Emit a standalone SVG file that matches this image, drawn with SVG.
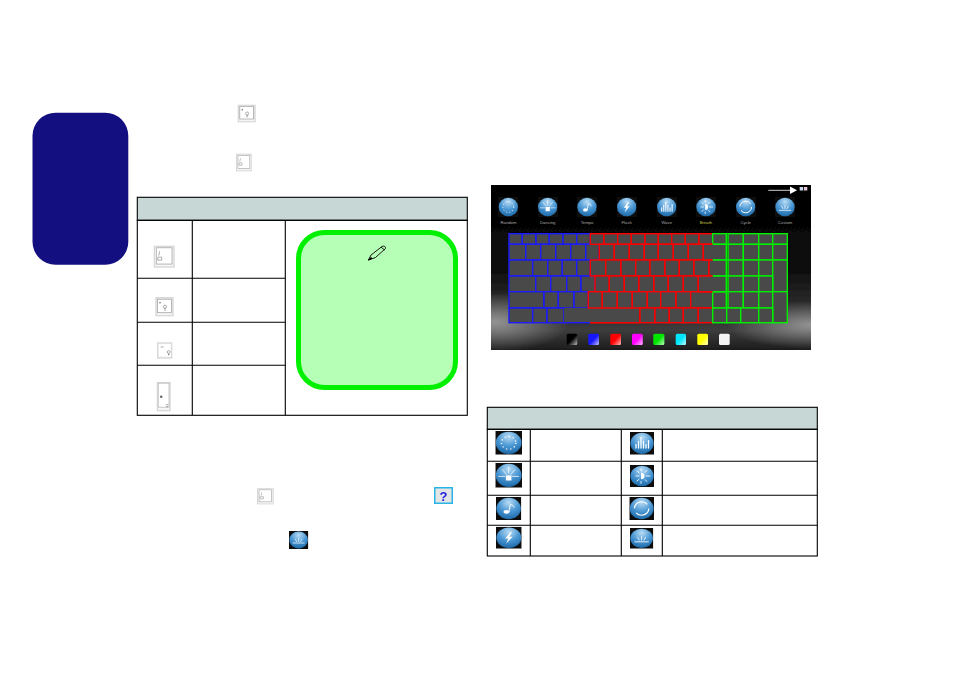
<svg xmlns="http://www.w3.org/2000/svg" width="954" height="673" viewBox="0 0 954 673">
<style>
.line{fill:none;stroke:#000;stroke-width:1.1}
.head{fill:#c7d7d6;stroke:#000;stroke-width:1.1}
.b,.r,.g,.k{fill:#484848;stroke-width:1.4}
.b{stroke:#1a1aff}.r{stroke:#ff0000}.g{stroke:#00f000}.k{stroke:none}
.nf{fill:none}
.lbl{font:4.2px "Liberation Sans",Arial,sans-serif;fill:#a8a8a8;text-anchor:middle}
.kf{fill:#f6f6f6;stroke:#d8d8d8;stroke-width:1.4}
.kn{fill:#fff;stroke:#a4a4a4;stroke-width:.8}
.ki{fill:none;stroke:#8a8a8a;stroke-width:.7}
.kd{fill:#666}
.w{fill:#fff}.ws{fill:none;stroke:#fff;stroke-linecap:round}
.soft{filter:url(#blur)}
</style>
<defs>
<filter id="blur" x="-5%" y="-5%" width="110%" height="110%"><feGaussianBlur stdDeviation=".28"/></filter>
<radialGradient id="sph" cx=".5" cy=".22" r=".85"><stop offset="0" stop-color="#b9dcf4"/><stop offset=".5" stop-color="#4a97d4"/><stop offset="1" stop-color="#14609f"/></radialGradient>
<linearGradient id="kbbg" x1="0" y1="0" x2="0" y2="1"><stop offset="0" stop-color="#000"/><stop offset=".5" stop-color="#0c0c0c"/><stop offset=".78" stop-color="#333"/><stop offset=".88" stop-color="#3c3c3c"/><stop offset="1" stop-color="#1c1c1c"/></linearGradient>
<radialGradient id="glow"><stop offset="0" stop-color="#aaa" stop-opacity=".8"/><stop offset="1" stop-color="#aaa" stop-opacity="0"/></radialGradient>
<clipPath id="kbclip"><rect x="491" y="185" width="320" height="165"/></clipPath>
<linearGradient id="sw" x1="0" y1="0" x2="1" y2="1"><stop offset=".5" stop-color="#fff" stop-opacity="0"/><stop offset="1" stop-color="#fff" stop-opacity=".75"/></linearGradient>
<symbol id="ball" viewBox="0 0 24 24" preserveAspectRatio="none"><rect width="24" height="24" fill="#111"/><ellipse cx="12" cy="12" rx="11.600" ry="11.200" fill="url(#sph)"/></symbol>
<symbol id="random" viewBox="0 0 24 24" preserveAspectRatio="none"><use href="#ball" width="24" height="24"/><circle cx="12" cy="12" r="6.500" fill="none" stroke="#fff" stroke-width="1.200" stroke-dasharray="1.200 2.600"/></symbol>
<symbol id="dancing" viewBox="0 0 24 24" preserveAspectRatio="none"><use href="#ball" width="24" height="24"/><rect x="9.500" y="12" width="5" height="5" class="w"/><path d="M12 10V4M10 11 6.500 6.500M14 11l3.500-4.500M8.500 13H3M15.500 13H21" class="ws" stroke-width=".7"/></symbol>
<symbol id="tempo" viewBox="0 0 24 24" preserveAspectRatio="none"><use href="#ball" width="24" height="24"/><ellipse cx="10" cy="15.500" rx="2.800" ry="2" class="w"/><path d="M12.400 15 13.500 8c2 0 3 .8 3.500 2.500" class="ws" stroke-width=".9"/></symbol>
<symbol id="flash" viewBox="0 0 24 24" preserveAspectRatio="none"><use href="#ball" width="24" height="24"/><path d="M13.500 6 8.500 13h3L9.500 18.500l6-7.500h-3l2.500-5z" class="w"/></symbol>
<symbol id="wave" viewBox="0 0 24 24" preserveAspectRatio="none"><use href="#ball" width="24" height="24"/><path d="M6 17v-4M8.500 17V10M11 17V6M13.500 17v-7M16 17v-4M18.500 17V9" class="ws" stroke-width="1.300" stroke-linecap="butt"/></symbol>
<symbol id="breath" viewBox="0 0 24 24" preserveAspectRatio="none"><use href="#ball" width="24" height="24"/><path d="M11 8.500a3.500 3.500 0 0 1 0 7z" class="w"/><path d="M9 12H6M9 8.500 7 6.500M9 15.500 7 17.500M11 6V4M11 20v-2M16 12h4M15 8l2-2M15 16l2 2" class="ws" stroke-width=".9"/></symbol>
<symbol id="cycle" viewBox="0 0 24 24" preserveAspectRatio="none"><use href="#ball" width="24" height="24"/><circle cx="12" cy="12" r="7" fill="none" stroke="#fff" stroke-width="1.200" stroke-dasharray="17 5"/></symbol>
<symbol id="custom" viewBox="0 0 24 24" preserveAspectRatio="none"><use href="#ball" width="24" height="24"/><path d="M5 16h14M12 14v-4M9.500 14 8 11M14.500 14l1.500-3" class="ws" stroke-width=".9"/></symbol>
<symbol id="key1" viewBox="0 0 22 23" preserveAspectRatio="none"><rect x="1" y="1" width="20" height="21" class="kf"/><rect x="3" y="2.500" width="16" height="16.500" class="kn"/><path d="M6.500 6 5.500 10.500M4.500 12h4v3h-4z" class="ki"/></symbol>
<symbol id="key2" viewBox="0 0 19 20" preserveAspectRatio="none"><rect x="1" y="1" width="17" height="18" class="kf"/><rect x="2.500" y="2.500" width="14" height="13.500" class="kn"/><circle cx="5" cy="6" r=".8" class="kd"/><circle cx="10" cy="10" r="1.600" class="ki"/><path d="M9 12h2M9 13.500h2" class="ki"/></symbol>
<symbol id="key3" viewBox="0 0 16 17" preserveAspectRatio="none"><rect x="1" y="1" width="14" height="15" class="kf"/><rect x="2.200" y="2.200" width="11.600" height="12" fill="#fff"/><path d="M4 5h3" class="ki"/><circle cx="12" cy="10" r="1.400" class="ki"/><circle cx="12" cy="12.500" r=".7" class="kd"/></symbol>
<symbol id="key4" viewBox="0 0 15 30" preserveAspectRatio="none"><rect x="1" y="1" width="13" height="28" class="kf"/><rect x="2" y="1.500" width="11" height="24" class="kn" style="stroke:#bbb"/><circle cx="5" cy="15" r="1.300" class="kd"/><path d="M9.500 23h3" class="ki"/><circle cx="11" cy="25" r=".6" class="kd"/></symbol>
</defs>

<g id="sidebar"><rect x="32.500" y="112.700" width="95.800" height="152" rx="23" fill="#140f80"/></g>

<g id="inline-icons" class="soft">
<use href="#key2" x="237.300" y="104.300" width="18.700" height="18.400"/>
<use href="#key1" x="235.700" y="153.300" width="16.300" height="18.400"/>
<use href="#key1" x="256.700" y="488" width="17.300" height="16.700"/>
<g id="help-icon"><rect x="434" y="487" width="19" height="17" fill="#2bb5e6"/><rect x="435.500" y="488.500" width="16" height="14" fill="#e4e4e4"/><text x="443.500" y="500.500" font-family="Liberation Sans,Arial,sans-serif" font-weight="bold" font-size="13" fill="#1a1ae0" text-anchor="middle">?</text></g>
<use href="#custom" x="289" y="531" width="19.300" height="18"/>
</g>

<g id="table-1">
<rect x="137.300" y="197.300" width="330" height="23" class="head"/>
<rect x="137.300" y="220.300" width="330" height="195" class="line"/>
<path d="M192.300 220.300V415.300M285.300 220.300V415.300M137.300 278.300H285.300M137.300 322.300H285.300M137.300 365.300H285.300" class="line"/>
<g class="soft">
<use href="#key1" x="153.300" y="245.300" width="21.700" height="22.700"/>
<use href="#key2" x="155" y="296.700" width="19" height="20"/>
<use href="#key3" x="156.700" y="342" width="16" height="17"/>
<use href="#key4" x="156.300" y="381.700" width="14.700" height="30"/>
</g>
</g>

<g id="note">
<rect x="298.500" y="232.500" width="157" height="155" rx="26" fill="#b6ffb6" stroke="#00f000" stroke-width="5"/>
<g id="pen" fill="none" stroke="#000" stroke-width=".9"><path d="M368.500 260 371 255 382 246.500C384 245.500 386 246.500 385.500 248.500L375.500 257.500Z"/><path d="M368.500 260 372 258M381 247l3.500 3"/><path d="M368.500 260 371 257.500 371.800 258.500Z" fill="#000"/></g>
</g>

<g id="keyboard-image" clip-path="url(#kbclip)">
<g class="soft">
<rect x="491" y="185" width="320" height="165" fill="url(#kbbg)"/>
<ellipse cx="495" cy="322" rx="75" ry="30" fill="url(#glow)"/>
<ellipse cx="812" cy="325" rx="85" ry="24" fill="url(#glow)"/>
<use href="#random" x="498.300" y="197" width="20" height="20"/>
<use href="#dancing" x="537.700" y="197" width="20" height="20"/>
<use href="#tempo" x="577" y="197" width="20" height="20"/>
<use href="#flash" x="616.700" y="197" width="20" height="20"/>
<use href="#wave" x="656.700" y="197" width="20" height="20"/>
<use href="#breath" x="696" y="197" width="20" height="20"/>
<use href="#cycle" x="735.700" y="197" width="20" height="20"/>
<use href="#custom" x="775" y="197" width="20" height="20"/>
<g id="arrow"><path d="M768.300 190.300H791" stroke="#fff" stroke-width=".8"/><path d="M790 186.500 797 190.300 790 194z" fill="#fff"/></g>
<rect x="799.700" y="187" width="3.400" height="3.500" fill="#c8d8f0"/><rect x="803.900" y="187" width="3.400" height="3.500" fill="#e8c8d8"/>
<g id="keys-blue">
<rect x="509" y="233.700" width="13.300" height="10.600" class="b"/><rect x="522.300" y="233.700" width="13.700" height="10.600" class="b"/><rect x="536" y="233.700" width="13.300" height="10.600" class="b"/><rect x="549.300" y="233.700" width="13.700" height="10.600" class="b"/><rect x="563" y="233.700" width="13.700" height="10.600" class="b"/><rect x="576.700" y="233.700" width="13.600" height="10.600" class="b"/>
<rect x="509" y="244.300" width="16.700" height="15.700" class="b"/><rect x="525.700" y="244.300" width="15" height="15.700" class="b"/><rect x="540.700" y="244.300" width="15" height="15.700" class="b"/><rect x="555.700" y="244.300" width="15" height="15.700" class="b"/><rect x="570.700" y="244.300" width="15" height="15.700" class="b"/><rect x="585.700" y="244.300" width="13.600" height="15.700" class="b"/>
<rect x="509" y="260" width="23.700" height="16" class="b"/><rect x="532.700" y="260" width="15" height="16" class="b"/><rect x="547.700" y="260" width="14.600" height="16" class="b"/><rect x="562.300" y="260" width="14.400" height="16" class="b"/><rect x="576.700" y="260" width="13.600" height="16" class="b"/>
<rect x="509" y="276" width="26.700" height="15.700" class="b"/><rect x="535.700" y="276" width="15" height="15.700" class="b"/><rect x="550.700" y="276" width="16" height="15.700" class="b"/><rect x="566.700" y="276" width="14.300" height="15.700" class="b"/><rect x="581" y="276" width="14" height="15.700" class="b"/>
<rect x="509" y="291.700" width="35" height="16.300" class="b"/><rect x="544" y="291.700" width="14.300" height="16.300" class="b"/><rect x="558.300" y="291.700" width="15.700" height="16.300" class="b"/><rect x="574" y="291.700" width="14.300" height="16.300" class="b"/>
<rect x="509" y="308" width="23.700" height="14.700" class="b"/><rect x="532.700" y="308" width="14.300" height="14.700" class="b"/><rect x="547" y="308" width="17" height="14.700" class="b"/>
<rect x="564" y="308" width="76" height="14.700" class="k"/><path d="M564 322.700H590" class="b nf"/>
</g>
<g id="keys-red">
<rect x="590.300" y="233.700" width="13.700" height="10.600" class="r"/><rect x="604" y="233.700" width="13.700" height="10.600" class="r"/><rect x="617.700" y="233.700" width="13.600" height="10.600" class="r"/><rect x="631.300" y="233.700" width="13.700" height="10.600" class="r"/><rect x="645" y="233.700" width="13.300" height="10.600" class="r"/><rect x="658.300" y="233.700" width="13.400" height="10.600" class="r"/><rect x="671.700" y="233.700" width="13.600" height="10.600" class="r"/><rect x="685.300" y="233.700" width="13.700" height="10.600" class="r"/><rect x="699" y="233.700" width="13.700" height="10.600" class="r"/>
<rect x="599.300" y="244.300" width="15" height="15.700" class="r"/><rect x="614.300" y="244.300" width="15" height="15.700" class="r"/><rect x="629.300" y="244.300" width="15" height="15.700" class="r"/><rect x="644.300" y="244.300" width="14" height="15.700" class="r"/><rect x="658.300" y="244.300" width="15" height="15.700" class="r"/><rect x="673.300" y="244.300" width="15" height="15.700" class="r"/><rect x="688.300" y="244.300" width="15" height="15.700" class="r"/>
<rect x="590.300" y="260" width="15.400" height="16" class="r"/><rect x="605.700" y="260" width="15.300" height="16" class="r"/><rect x="621" y="260" width="14.700" height="16" class="r"/><rect x="635.700" y="260" width="14.300" height="16" class="r"/><rect x="650" y="260" width="15" height="16" class="r"/><rect x="665" y="260" width="14.300" height="16" class="r"/><rect x="679.300" y="260" width="14.700" height="16" class="r"/><rect x="694" y="260" width="15" height="16" class="r"/>
<rect x="595" y="276" width="14.300" height="15.700" class="r"/><rect x="609.300" y="276" width="15" height="15.700" class="r"/><rect x="624.300" y="276" width="14.700" height="15.700" class="r"/><rect x="639" y="276" width="15" height="15.700" class="r"/><rect x="654" y="276" width="14.300" height="15.700" class="r"/><rect x="668.300" y="276" width="15" height="15.700" class="r"/><rect x="683.300" y="276" width="15" height="15.700" class="r"/>
<rect x="588.300" y="291.700" width="14" height="16.300" class="r"/><rect x="602.300" y="291.700" width="15" height="16.300" class="r"/><rect x="617.300" y="291.700" width="15" height="16.300" class="r"/><rect x="632.300" y="291.700" width="15" height="16.300" class="r"/><rect x="647.300" y="291.700" width="13.400" height="16.300" class="r"/><rect x="660.700" y="291.700" width="15.300" height="16.300" class="r"/><rect x="676" y="291.700" width="14.700" height="16.300" class="r"/><rect x="690.700" y="291.700" width="22" height="16.300" class="r"/>
<path d="M590 322.700H640V308" class="r nf"/>
<rect x="640" y="308" width="15" height="14.700" class="r"/><rect x="655" y="308" width="14.300" height="14.700" class="r"/><rect x="669.300" y="308" width="14" height="14.700" class="r"/><rect x="683.300" y="308" width="15" height="14.700" class="r"/><rect x="698.300" y="308" width="14.400" height="14.700" class="r"/>
</g>
<g id="keys-green">
<rect x="712.700" y="233.700" width="13.600" height="10.600" class="g"/><rect x="728" y="233.700" width="15.300" height="10.600" class="g"/><rect x="743.300" y="233.700" width="15.400" height="10.600" class="g"/><rect x="758.700" y="233.700" width="14" height="10.600" class="g"/><rect x="772.700" y="233.700" width="14.600" height="10.600" class="g"/>
<rect x="728" y="244.300" width="15.300" height="15.700" class="g"/><rect x="743.300" y="244.300" width="15.400" height="15.700" class="g"/><rect x="758.700" y="244.300" width="14" height="15.700" class="g"/><rect x="772.700" y="244.300" width="14.600" height="15.700" class="g"/>
<rect x="728" y="260" width="15.300" height="16" class="g"/><rect x="743.300" y="260" width="15.400" height="16" class="g"/><rect x="758.700" y="260" width="14" height="16" class="g"/><rect x="772.700" y="260" width="14.600" height="31.700" class="g"/>
<rect x="728" y="276" width="15.300" height="15.700" class="g"/><rect x="743.300" y="276" width="15.400" height="15.700" class="g"/><rect x="758.700" y="276" width="14" height="15.700" class="g"/>
<rect x="712.700" y="291.700" width="13.600" height="16.300" class="g"/><rect x="728" y="291.700" width="15.300" height="16.300" class="g"/><rect x="743.300" y="291.700" width="15.400" height="16.300" class="g"/><rect x="758.700" y="291.700" width="14" height="16.300" class="g"/><rect x="772.700" y="291.700" width="14.600" height="31" class="g"/>
<rect x="712.700" y="308" width="14" height="14.700" class="g"/><rect x="726.700" y="308" width="14" height="14.700" class="g"/><rect x="740.700" y="308" width="18" height="14.700" class="g"/><rect x="758.700" y="308" width="14" height="14.700" class="g"/>
</g>
<g id="keys-wide">
<rect x="703.300" y="244.300" width="23" height="15.700" class="k"/><path d="M712.700 244.300H703.300V260H712.700" class="r nf"/><path d="M712.700 244.300H726.300V260H712.700" class="g nf"/>
<rect x="709" y="260" width="17.300" height="16" class="k"/><path d="M712.700 260H709V276H712.700" class="r nf"/><path d="M712.700 260H726.300V276H712.700" class="g nf"/>
<rect x="698.300" y="276" width="28" height="15.700" class="k"/><path d="M712.700 276H698.300V291.700H712.700" class="r nf"/><path d="M712.700 276H726.300V291.700H712.700" class="g nf"/>
</g>
<g id="swatches">
<rect x="566.700" y="333.700" width="10.600" height="11.300" rx="1.500" fill="#000"/><rect x="566.700" y="333.700" width="10.600" height="11.300" rx="1.500" fill="url(#sw)"/>
<rect x="588.300" y="333.700" width="10.700" height="11.300" rx="1.500" fill="#1414ff"/><rect x="588.300" y="333.700" width="10.700" height="11.300" rx="1.500" fill="url(#sw)"/>
<rect x="610.300" y="333.700" width="10.700" height="11.300" rx="1.500" fill="#ff0000"/><rect x="610.300" y="333.700" width="10.700" height="11.300" rx="1.500" fill="url(#sw)"/>
<rect x="632" y="333.700" width="10.700" height="11.300" rx="1.500" fill="#ff00ff"/><rect x="632" y="333.700" width="10.700" height="11.300" rx="1.500" fill="url(#sw)"/>
<rect x="653.300" y="333.700" width="11" height="11.300" rx="1.500" fill="#00e600"/><rect x="653.300" y="333.700" width="11" height="11.300" rx="1.500" fill="url(#sw)"/>
<rect x="675.700" y="333.700" width="10.300" height="11.300" rx="1.500" fill="#00e6ff"/><rect x="675.700" y="333.700" width="10.300" height="11.300" rx="1.500" fill="url(#sw)"/>
<rect x="697.300" y="333.700" width="10.700" height="11.300" rx="1.500" fill="#ffff00"/><rect x="697.300" y="333.700" width="10.700" height="11.300" rx="1.500" fill="url(#sw)"/>
<rect x="719" y="333.700" width="10.700" height="11.300" rx="1.500" fill="#f4f4f4"/>
</g>
</g>
<text x="508.500" y="223.500" class="lbl">Random</text>
<text x="547.700" y="223.500" class="lbl">Dancing</text>
<text x="587" y="223.500" class="lbl">Tempo</text>
<text x="626.700" y="223.500" class="lbl">Flash</text>
<text x="666.700" y="223.500" class="lbl">Wave</text>
<text x="706" y="223.500" class="lbl" style="fill:#c8c840">Breath</text>
<text x="745.700" y="223.500" class="lbl">Cycle</text>
<text x="785" y="223.500" class="lbl">Custom</text>
</g>

<g id="table-2">
<rect x="487.300" y="407.300" width="330" height="22" class="head"/>
<rect x="487.300" y="429.300" width="330" height="126.700" class="line"/>
<path d="M530.300 429.300V556M621.300 429.300V556M662.300 429.300V556M487.300 461.300H817.300M487.300 495.300H817.300M487.300 525.300H817.300" class="line"/>
<g class="soft">
<use href="#random" x="495.300" y="431" width="26.700" height="23.700"/>
<use href="#dancing" x="495.300" y="463" width="26.700" height="24.700"/>
<use href="#tempo" x="496" y="497" width="25.300" height="23"/>
<use href="#flash" x="496" y="526.700" width="25.700" height="22"/>
<use href="#wave" x="630" y="432" width="24" height="22.700"/>
<use href="#breath" x="630" y="465" width="24" height="22"/>
<use href="#cycle" x="629.300" y="497" width="24.700" height="23"/>
<use href="#custom" x="630" y="528" width="23.300" height="20.700"/>
</g>
</g>
</svg>
